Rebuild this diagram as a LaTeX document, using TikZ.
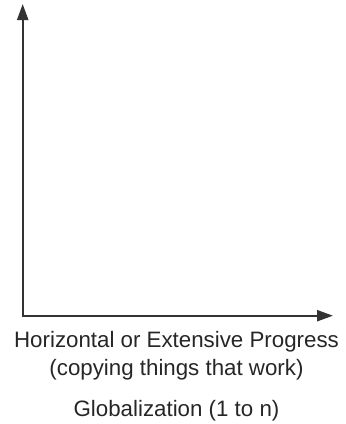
\documentclass[tikz,border=0pt]{standalone}
\usepackage{fontspec}
\setmainfont{Liberation Sans}
\usetikzlibrary{arrows.meta,positioning}

\begin{document}
\begin{tikzpicture}[x=0.5pt,y=-0.5pt,>={Triangle[length=8pt,width=5.5pt]},
                    line width=1.1pt]

  \tikzstyle{axis}=[<->,draw=black!80,line join=miter]
  \tikzstyle{caption}=[font=\fontsize{11.15}{14}\selectfont,text=black!85,inner sep=0pt,anchor=base]

  \useasboundingbox (0,0) rectangle (345,424);

  \coordinate (O)    at (22.7,315.7);
  \coordinate (Ytip) at (22.7,4);
  \coordinate (Xtip) at (333,315.7);

  \node[caption] (HOR)  at (176.5,347) {Horizontal or Extensive Progress};
  \node[caption] (COPY) at (176.5,375) {(copying things that work)};
  \node[caption] (GLB)  at (176.5,416) {Globalization (1 to n)};

  \draw[axis] (Ytip) -- (O) -- (Xtip);
\end{tikzpicture}
\end{document}
